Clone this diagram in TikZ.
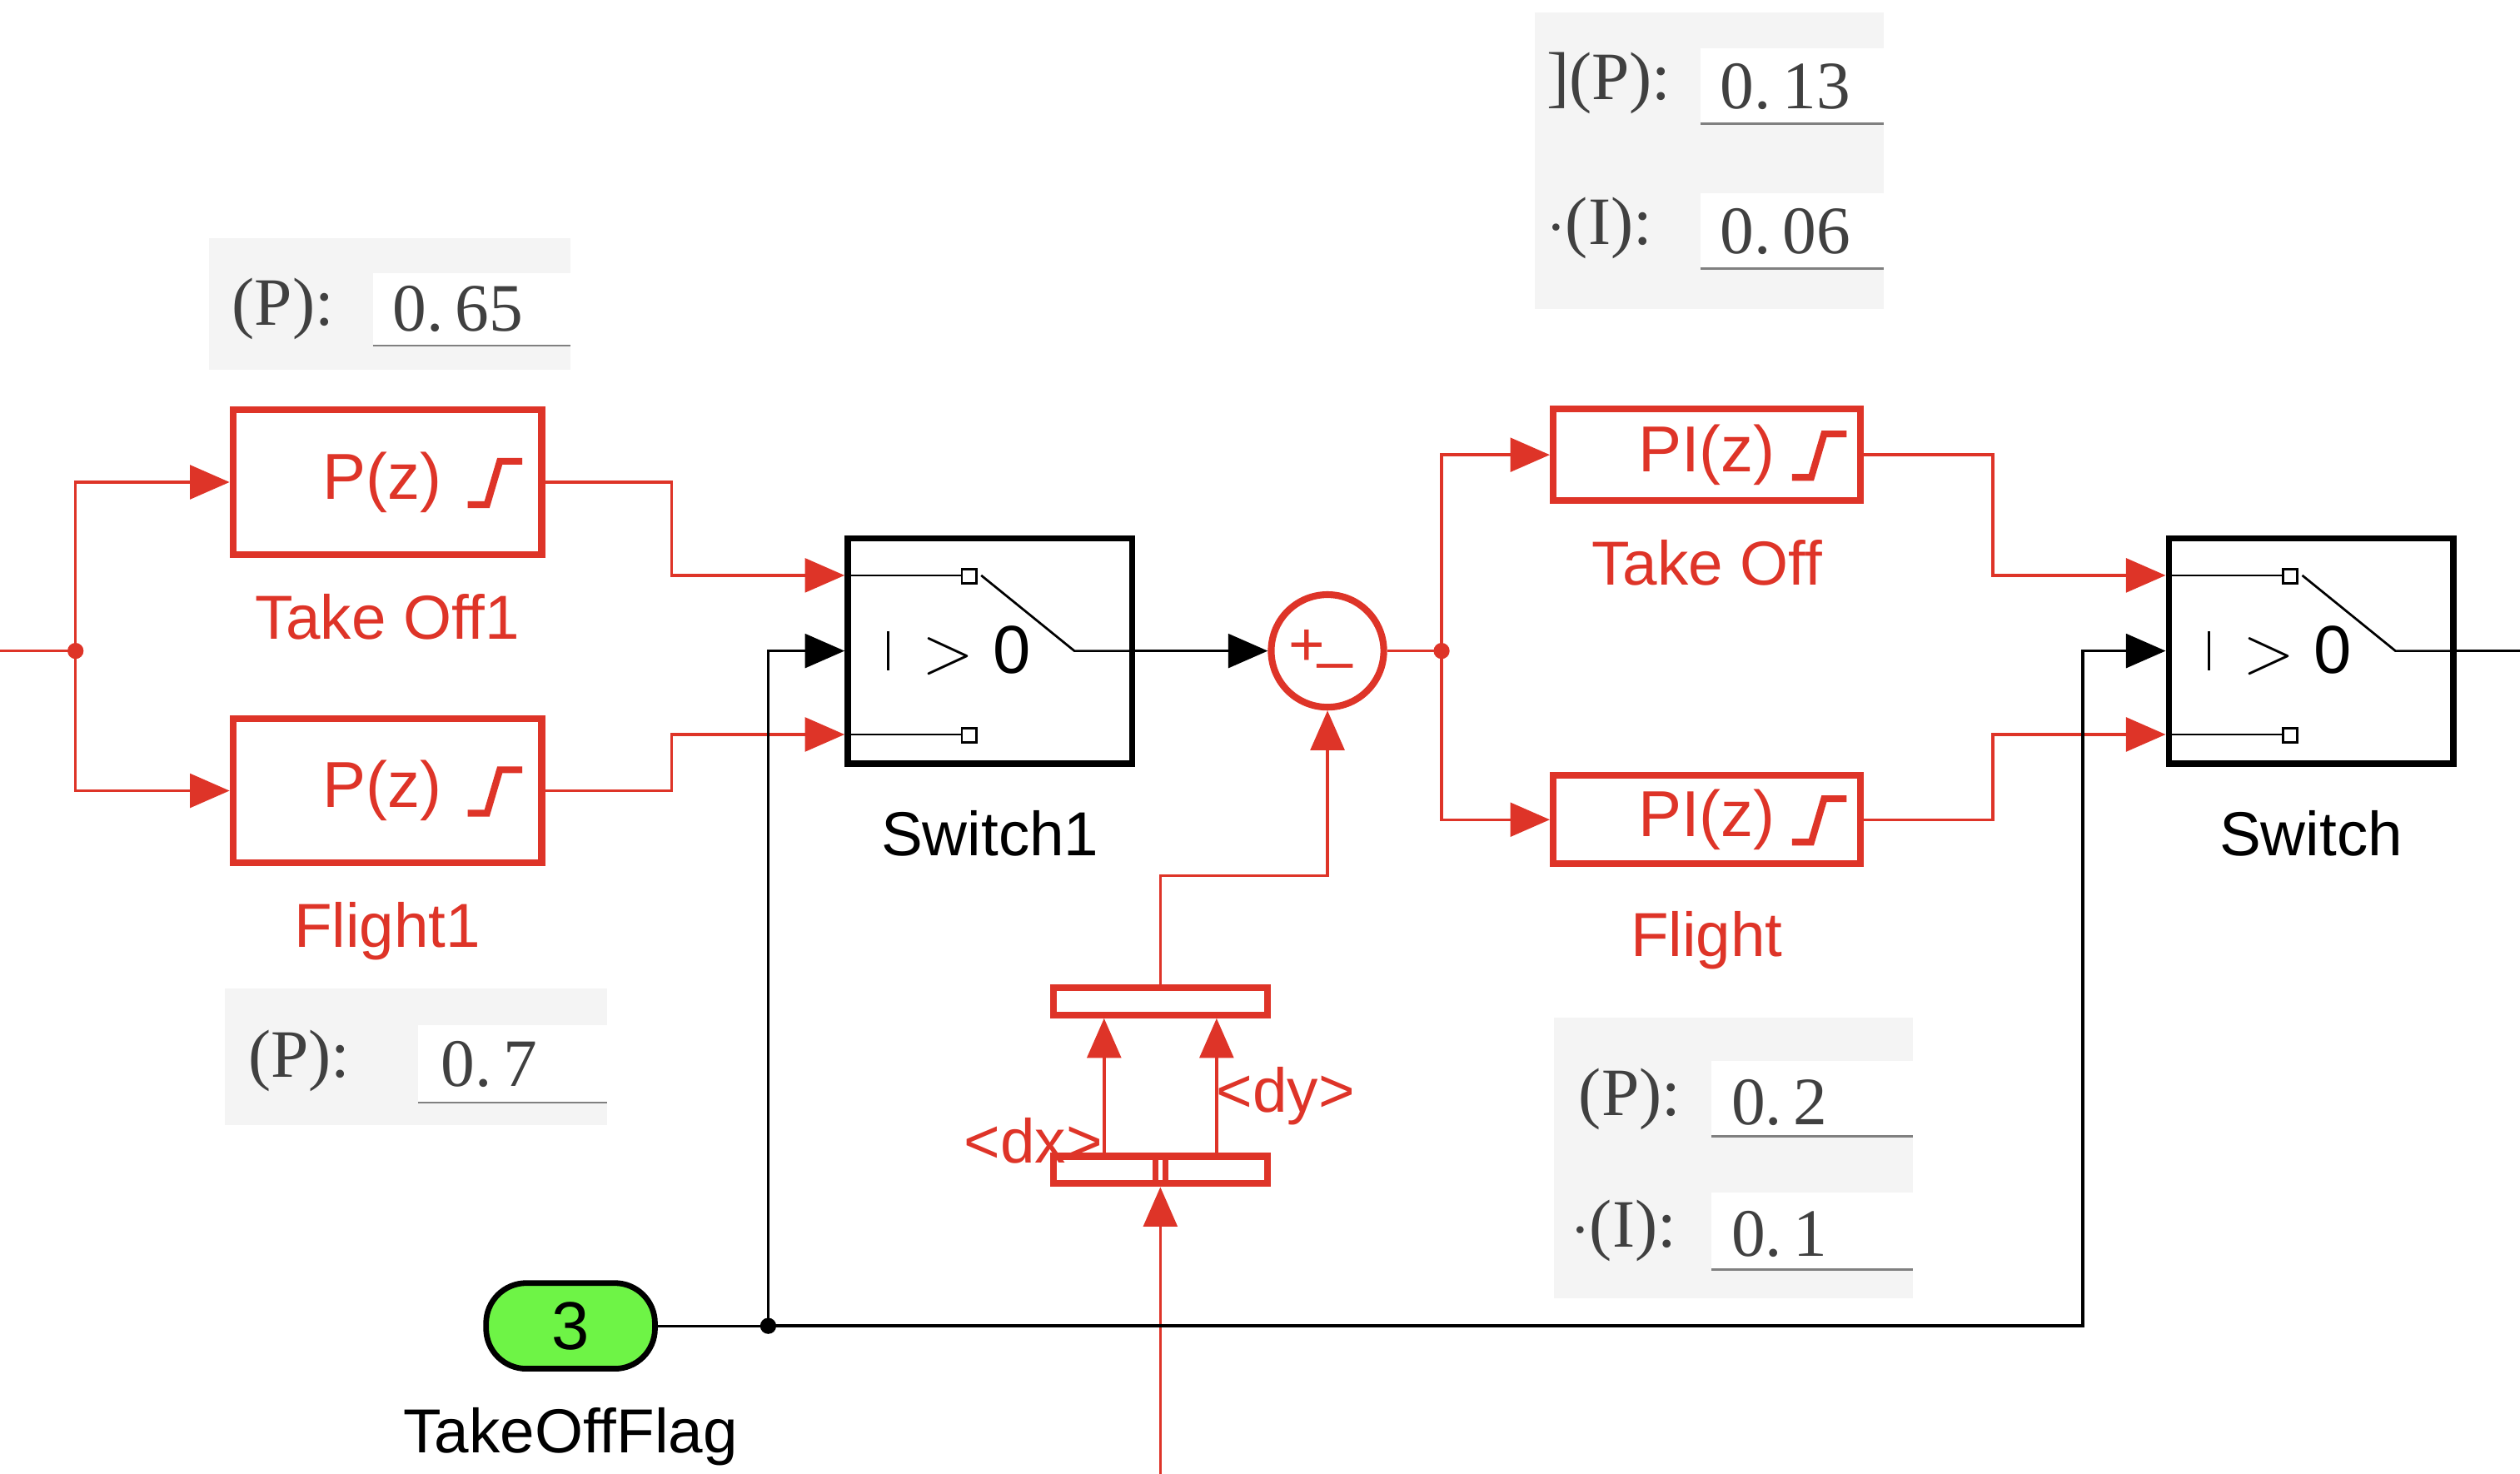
\documentclass[tikz,border=0pt]{standalone}
\usepackage{fontspec}
\setmainfont{Liberation Sans}
\newfontfamily\panelfont{Liberation Serif}
\usetikzlibrary{arrows.meta,positioning}
\definecolor{simred}{RGB}{222,52,40}
\definecolor{flaggreen}{RGB}{110,244,70}
\definecolor{panelgray}{RGB}{244,244,244}
\begin{document}
\begin{tikzpicture}[x=0.01cm,y=-0.01cm]
\tikzstyle{block} = [rectangle, draw=simred, line width=1.2pt, fill=white, text=simred, inner sep=0pt]
\tikzstyle{sw} = [rectangle, draw=black, line width=1.1pt, fill=white, inner sep=0pt, minimum width=1.77cm, minimum height=1.4cm]
\tikzstyle{lbl} = [font=\fontsize{11}{13}\selectfont]
\tikzstyle{btext} = [text=simred, font=\fontsize{11.5}{13}\selectfont]
\tikzstyle{arrow} = [simred, line width=0.5pt, -{Triangle[length=7pt,width=6pt]}]
\tikzstyle{barrow} = [black, line width=0.5pt, -{Triangle[length=7pt,width=6pt]}]
\tikzstyle{panel} = [fill=panelgray, draw=none]
\tikzstyle{field} = [fill=white, draw=none]
\tikzstyle{ptext} = [font=\panelfont\fontsize{12}{14}\selectfont, text=black!75, anchor=west]
\useasboundingbox (0,0) rectangle (1568,917);
% parameter panels
\fill[panel] (130,148) rectangle (355,230);
\fill[field] (232,170) rectangle (355,215); \draw[gray] (232,215) -- (355,215);
\node[ptext] (p1) at (132,192) {(P):};
\node[ptext] (v1) at (232,192) {0.\,65};
\fill[panel] (140,615) rectangle (378,700);
\fill[field] (260,638) rectangle (378,686); \draw[gray] (260,686) -- (378,686);
\node[ptext] (p2) at (142,660) {(P):};
\node[ptext] (v2) at (262,662) {0.\,7};
\fill[panel] (955,8) rectangle (1172,192);
\fill[field] (1058,30) rectangle (1172,77); \draw[gray] (1058,77) -- (1172,77);
\fill[field] (1058,120) rectangle (1172,167); \draw[gray] (1058,167) -- (1172,167);
\node[ptext] (p3) at (950,52) {](P):};
\node[ptext] (v3) at (1058,54) {0.\,13};
\node[ptext] (i3) at (950,142) {$\cdot$(I):};
\node[ptext] (w3) at (1058,144) {0.\,06};
\fill[panel] (967,633) rectangle (1190,808);
\fill[field] (1065,660) rectangle (1190,707); \draw[gray] (1065,707) -- (1190,707);
\fill[field] (1065,742) rectangle (1190,790); \draw[gray] (1065,790) -- (1190,790);
\node[ptext] (p4) at (970,684) {(P):};
\node[ptext] (v4) at (1065,686) {0.\,2};
\node[ptext] (i4) at (965,766) {$\cdot$(I):};
\node[ptext] (w4) at (1065,768) {0.\,1};
% blocks
\node (to1) [block, minimum width=1.92cm, minimum height=0.9cm] at (241,300) {};
\node (fl1) [block, minimum width=1.92cm, minimum height=0.9cm] at (241,492) {};
\node (to) [block, minimum width=1.91cm, minimum height=0.57cm] at (1062,283) {};
\node (fl) [block, minimum width=1.91cm, minimum height=0.55cm] at (1062,510) {};
\node[btext] at (238,300) {P(z)};
\node[btext] at (238,492) {P(z)};
\node[btext] at (1062,283) {PI(z)};
\node[btext] at (1062,510) {PI(z)};
\foreach \x/\y in {303/300, 303/492, 1127/283, 1127/510}
  \draw[simred, line width=1.2pt] (\x-12,\y+14) -- (\x,\y+14) -- (\x+8,\y-13) -- (\x+22,\y-13);
\node[text=simred, lbl, below=0.1cm of to1] {Take Off1};
\node[text=simred, lbl, below=0.1cm of fl1] {Flight1};
\node[text=simred, lbl, below=0.1cm of to] {Take Off};
\node[text=simred, lbl, below=0.15cm of fl] {Flight};
% switches
\node (sw1) [sw] at (616,405) {};
\node (sw) [sw] at (1438,405) {};
\foreach \s in {sw1, sw} {
  \draw (\s.west) ++(0,-47) coordinate (\s a) -- ++(77,0) coordinate (\s q);
  \draw[fill=white] (\s q) ++(-4,-4) rectangle ++(9,9);
  \draw (\s.west) ++(0,52) coordinate (\s b) -- ++(77,0) coordinate (\s r);
  \draw[fill=white] (\s r) ++(-4,-4) rectangle ++(9,9);
  \coordinate (\s c) at (\s.west);
  \draw (\s.west) ++(27,-12) -- ++(0,24);
  \node[font=\fontsize{12}{14}\selectfont, anchor=west] at ([xshift=0.36cm]\s.west) {$>$ 0};
  \draw (\s q) ++(8,0) -- ++(58,47) -- (\s.east);
}
\node[lbl, below=0.15cm of sw1] {Switch1};
\node[lbl, below=0.15cm of sw] {Switch};
% sum
\node (sum) [circle, draw=simred, line width=1.2pt, fill=white, minimum size=0.7cm, inner sep=0pt] at (826,405) {};
\node[text=simred, font=\fontsize{11}{13}\selectfont, inner sep=0pt] at (813,403) {+};
\node[text=simred, font=\fontsize{11}{13}\selectfont, inner sep=0pt] at (831,412) {\_};
% bus selector
\node (bus1) [rectangle, draw=simred, line width=1.2pt, minimum width=1.33cm, minimum height=0.17cm, inner sep=0pt] at (722,623) {};
\node (bus2) [rectangle, draw=simred, line width=1.2pt, minimum width=1.33cm, minimum height=0.17cm, inner sep=0pt] at (722,728) {};
\draw[simred, line width=1pt] (719,720) -- (719,737) (725,720) -- (725,737);
\draw[arrow] (bus2.north -| 687,0) -- (bus1.south -| 687,0);
\draw[arrow] (bus2.north -| 757,0) -- (bus1.south -| 757,0);
\node[text=simred, lbl, inner sep=1pt] at (643,710) {<dx>};
\node[text=simred, lbl] at (800,682) {<dy>};
\coordinate (busin) at (722,917);
\draw[arrow] (busin) -- (bus2.south);
\draw[arrow] (bus1.north) -- (722,545) -| (sum.south);
% flag
\node (flag) [rounded corners=0.25cm, draw=black, line width=1pt, fill=flaggreen, minimum width=1.05cm, minimum height=0.5cm, font=\fontsize{12}{14}\selectfont] at (355,825) {3};
\node[lbl, below=0.1cm of flag] {TakeOffFlag};
% connectors
\coordinate (in) at (0,405);
\coordinate (out) at (1568,405);
\coordinate (j1) at (47,405);
\coordinate (j2) at (897,405);
\coordinate (j3) at (478,825);
\draw[simred] (in) -- (j1);
\fill[simred] (j1) circle (5);
\draw[arrow] (j1) |- (to1.west);
\draw[arrow] (j1) |- (fl1.west);
\draw[arrow] (to1.east) -- (418,300) |- (sw1a);
\draw[arrow] (fl1.east) -- (418,492) |- (sw1b);
\draw[barrow] (sw1.east) -- (sum.west);
\draw[simred] (sum.east) -- (j2);
\fill[simred] (j2) circle (5);
\draw[arrow] (j2) |- (to.west);
\draw[arrow] (j2) |- (fl.west);
\draw[arrow] (to.east) -- (1240,283) |- (swa);
\draw[arrow] (fl.east) -- (1240,510) |- (swb);
\draw (sw.east) -- (out);
\draw (flag.east) -- (j3);
\fill (j3) circle (5);
\draw[barrow] (j3) |- (sw1c);
\draw[barrow] (j3) -- (1296,825) |- (swc);
\end{tikzpicture}
\end{document}
